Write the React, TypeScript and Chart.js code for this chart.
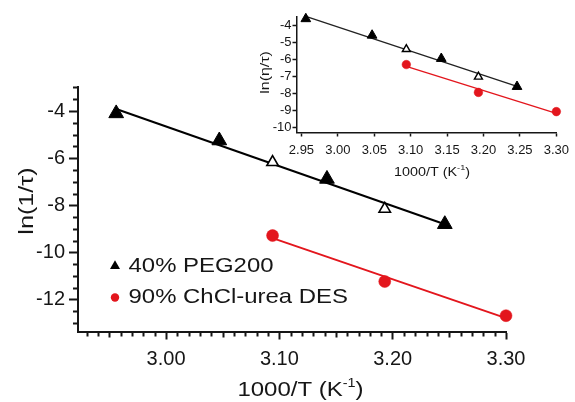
import React, { useEffect, useRef } from "react";
import { Chart, registerables } from "chart.js";

Chart.register(...registerables);

// ---------- data ----------
// 40% PEG200: 1000/T values, open (false) or filled (true) triangles
const pegX = [2.956, 3.047, 3.094, 3.142, 3.193, 3.246];
const pegFilled = [true, true, false, true, false, true];
const pegLnTau = [-4.1, -5.25, -6.17, -6.88, -8.15, -8.8];
const pegLnEtaTau = [-3.61, -4.58, -5.4, -5.95, -7.02, -7.6];
// 90% ChCl-urea DES
const desX = [3.094, 3.193, 3.3];
const desLnTau = [-9.28, -11.23, -12.68];
const desLnEtaTau = [-6.3, -7.94, -9.07];

const legendLabels = ["40% PEG200", "90% ChCl-urea DES"];
const mainXTicks = [3.0, 3.1, 3.2, 3.3];
const mainYTicks = [-4, -6, -8, -10, -12];
const insetXTicks = [2.95, 3.0, 3.05, 3.1, 3.15, 3.2, 3.25, 3.3];
const insetYTicks = [-4, -5, -6, -7, -8, -9, -10];

// ---------- styling ----------
const FONT = '"Liberation Sans", Arial, sans-serif';
const INK = "#161616";
const RED = "#e3161d";

function fitLine(xs: number[], ys: number[]) {
  const n = xs.length;
  const mx = xs.reduce((a, b) => a + b, 0) / n;
  const my = ys.reduce((a, b) => a + b, 0) / n;
  let sxy = 0;
  let sxx = 0;
  for (let i = 0; i < n; i++) {
    sxy += (xs[i] - mx) * (ys[i] - my);
    sxx += (xs[i] - mx) * (xs[i] - mx);
  }
  const b = sxy / sxx;
  const a = my - b * mx;
  const x0 = Math.min(...xs);
  const x1 = Math.max(...xs);
  return [
    { x: x0, y: a + b * x0 },
    { x: x1, y: a + b * x1 },
  ];
}

function pts(xs: number[], ys: number[]) {
  return xs.map((x, i) => ({ x, y: ys[i] }));
}

function stretchedText(
  ctx: CanvasRenderingContext2D,
  text: string,
  x: number,
  y: number,
  font: string,
  sx: number,
  align: CanvasTextAlign,
  rotate = 0
) {
  ctx.save();
  ctx.translate(x, y);
  if (rotate) ctx.rotate(rotate);
  ctx.scale(sx, 1);
  ctx.font = font;
  ctx.fillStyle = INK;
  ctx.textAlign = align;
  ctx.textBaseline = "middle";
  ctx.fillText(text, 0, 0);
  ctx.restore();
}

function kTitle(
  ctx: CanvasRenderingContext2D,
  cx: number,
  baseline: number,
  size: number,
  sx: number
) {
  const main = "1000/T (K";
  const sup = "-1";
  const close = ")";
  const bigFont = `${size}px ${FONT}`;
  const supFont = `${Math.round(size * 0.62)}px ${FONT}`;
  ctx.save();
  ctx.translate(cx, baseline);
  ctx.scale(sx, 1);
  ctx.fillStyle = INK;
  ctx.textBaseline = "alphabetic";
  ctx.textAlign = "left";
  ctx.font = bigFont;
  const w1 = ctx.measureText(main).width;
  const w3 = ctx.measureText(close).width;
  ctx.font = supFont;
  const w2 = ctx.measureText(sup).width;
  const total = w1 + w2 + w3;
  let x = -total / 2;
  ctx.font = bigFont;
  ctx.fillText(main, x, 0);
  x += w1;
  ctx.font = supFont;
  ctx.fillText(sup, x, -size * 0.42);
  x += w2;
  ctx.font = bigFont;
  ctx.fillText(close, x, 0);
  ctx.restore();
}

function isMajor(v: number, majors: number[]) {
  return majors.some((m) => Math.abs(m - v) < 1e-6);
}

function minorTickPlugin(o: {
  xStep: number;
  xMidStep: number;
  yStep: number;
  xLen: number;
  xMidLen: number;
  yLen: number;
  width: number;
  xMajors: number[];
  yMajors: number[];
}) {
  return {
    id: "minorTicks",
    afterDraw(chart: any) {
      const { ctx, chartArea } = chart;
      const xs = chart.scales.x;
      const ys = chart.scales.y;
      ctx.save();
      ctx.strokeStyle = INK;
      ctx.lineWidth = o.width;
      ctx.beginPath();
      if (o.xStep > 0) {
        const k0 = Math.ceil(xs.min / o.xStep - 1e-9);
        const k1 = Math.floor(xs.max / o.xStep + 1e-9);
        for (let k = k0; k <= k1; k++) {
          const v = k * o.xStep;
          if (isMajor(v, o.xMajors)) continue;
          const px = Math.round(xs.getPixelForValue(v)) + 0.5;
          const mid = Math.abs(v / o.xMidStep - Math.round(v / o.xMidStep)) < 1e-6;
          const len = mid ? o.xMidLen : o.xLen;
          ctx.moveTo(px, chartArea.bottom);
          ctx.lineTo(px, chartArea.bottom + len);
        }
      }
      if (o.yStep > 0) {
        const k0 = Math.ceil(ys.min / o.yStep - 1e-9);
        const k1 = Math.floor(ys.max / o.yStep + 1e-9);
        for (let k = k0; k <= k1; k++) {
          const v = k * o.yStep;
          if (isMajor(v, o.yMajors)) continue;
          const py = Math.round(ys.getPixelForValue(v)) + 0.5;
          ctx.moveTo(chartArea.left, py);
          ctx.lineTo(chartArea.left - o.yLen, py);
        }
      }
      ctx.stroke();
      ctx.restore();
    },
  };
}

const mainTextPlugin = {
  id: "mainText",
  afterDraw(chart: any) {
    const ctx: CanvasRenderingContext2D = chart.ctx;
    // y-axis title
    stretchedText(ctx, "ln(1/\u03c4)", 27, 201, `21px ${FONT}`, 1.2, "center", -Math.PI / 2);
    // x-axis title
    kTitle(ctx, 300.5, 395.5, 20, 1.2);
    // legend
    const rows = [266, 297.5];
    // triangle marker
    const tx = 115;
    const r = 5.8;
    ctx.save();
    ctx.fillStyle = "#000";
    ctx.beginPath();
    ctx.moveTo(tx, rows[0] - r);
    ctx.lineTo(tx + r * 0.866, rows[0] + r * 0.5);
    ctx.lineTo(tx - r * 0.866, rows[0] + r * 0.5);
    ctx.closePath();
    ctx.fill();
    ctx.fillStyle = RED;
    ctx.beginPath();
    ctx.arc(tx, rows[1], 4.2, 0, Math.PI * 2);
    ctx.fill();
    ctx.restore();
    legendLabels.forEach((lab, i) => {
      stretchedText(ctx, lab, 128.5, rows[i], `21px ${FONT}`, 1.14, "left");
    });
  },
};

const insetTextPlugin = {
  id: "insetText",
  afterDraw(chart: any) {
    const ctx: CanvasRenderingContext2D = chart.ctx;
    stretchedText(ctx, "ln(\u03b7/\u03c4)", 15, 72.5, `13px ${FONT}`, 1.22, "center", -Math.PI / 2);
    kTitle(ctx, 182, 175.5, 12.5, 1.15);
  },
};

function MainChart() {
  const ref = useRef<HTMLCanvasElement>(null);
  useEffect(() => {
    if (!ref.current) return;
    const pegPts = pts(pegX, pegLnTau);
    const desPts = pts(desX, desLnTau);
    const chart = new Chart(ref.current, {
      type: "scatter",
      data: {
        datasets: [
          {
            label: legendLabels[0],
            data: pegPts,
            pointStyle: "triangle",
            pointRadius: (c: any) => (pegFilled[c.dataIndex] ? 8.5 : 6.6),
            pointHoverRadius: (c: any) => (pegFilled[c.dataIndex] ? 8.5 : 6.6),
            pointBackgroundColor: (c: any) => (pegFilled[c.dataIndex] ? "#000" : "#fff"),
            pointBorderColor: "#000",
            pointBorderWidth: (c: any) => (pegFilled[c.dataIndex] ? 1 : 1.6),
            showLine: false,
            clip: false as any,
          },
          {
            label: legendLabels[1],
            data: desPts,
            pointStyle: "circle",
            pointRadius: 6,
            pointBackgroundColor: RED,
            pointBorderColor: RED,
            pointBorderWidth: 0.5,
            showLine: false,
            clip: false as any,
          },
          {
            label: "PEG fit",
            data: fitLine(pegX, pegLnTau),
            showLine: true,
            borderColor: "#000",
            borderWidth: 2,
            pointRadius: 0,
            clip: false as any,
          },
          {
            label: "DES fit",
            data: fitLine(desX, desLnTau),
            showLine: true,
            borderColor: RED,
            borderWidth: 2,
            pointRadius: 0,
            clip: false as any,
          },
        ],
      },
      options: {
        animation: false,
        responsive: false,
        devicePixelRatio: 1,
        events: [],
        layout: { padding: { left: 0, top: 87, right: 69, bottom: 0 } },
        plugins: { legend: { display: false }, tooltip: { enabled: false }, title: { display: false } },
        scales: {
          x: {
            type: "linear",
            min: 2.9223,
            max: 3.3,
            afterBuildTicks: (s: any) => {
              s.ticks = mainXTicks.map((v) => ({ value: v }));
            },
            afterFit: (s: any) => {
              s.height = 70.5;
            },
            ticks: {
              callback: (v: any) => Number(v).toFixed(2),
              font: { family: FONT, size: 20 },
              color: INK,
              padding: 8,
              maxRotation: 0,
              autoSkip: false,
            },
            grid: { drawOnChartArea: false, drawTicks: true, tickLength: 8, tickWidth: 2, tickColor: INK },
            border: { display: true, color: INK, width: 2 },
          },
          y: {
            type: "linear",
            min: -13.35,
            max: -2.98,
            afterBuildTicks: (s: any) => {
              s.ticks = mainYTicks.map((v) => ({ value: v }));
            },
            afterFit: (s: any) => {
              s.width = 78;
            },
            ticks: {
              callback: (v: any) => String(v),
              font: { family: FONT, size: 20 },
              color: INK,
              padding: 4,
              autoSkip: false,
            },
            grid: { drawOnChartArea: false, drawTicks: true, tickLength: 9, tickWidth: 2, tickColor: INK },
            border: { display: true, color: INK, width: 2 },
          },
        },
      } as any,
      plugins: [
        minorTickPlugin({
          xStep: 0.01,
          xMidStep: 0.05,
          yStep: 0.5,
          xLen: 5,
          xMidLen: 6,
          yLen: 5,
          width: 2,
          xMajors: mainXTicks,
          yMajors: mainYTicks,
        }),
        mainTextPlugin,
      ],
    });
    return () => chart.destroy();
  }, []);
  return (
    <canvas
      ref={ref}
      width={575}
      height={402}
      style={{ position: "absolute", left: 0, top: 0, width: 575, height: 402 }}
    />
  );
}

function InsetChart() {
  const ref = useRef<HTMLCanvasElement>(null);
  useEffect(() => {
    if (!ref.current) return;
    const pegPts = pts(pegX, pegLnEtaTau);
    const desPts = pts(desX, desLnEtaTau);
    const chart = new Chart(ref.current, {
      type: "scatter",
      data: {
        datasets: [
          {
            label: legendLabels[0],
            data: pegPts,
            pointStyle: "triangle",
            pointRadius: (c: any) => (pegFilled[c.dataIndex] ? 5.6 : 4.6),
            pointHoverRadius: (c: any) => (pegFilled[c.dataIndex] ? 5.6 : 4.6),
            pointBackgroundColor: (c: any) => (pegFilled[c.dataIndex] ? "#000" : "#fff"),
            pointBorderColor: "#000",
            pointBorderWidth: (c: any) => (pegFilled[c.dataIndex] ? 1 : 1.4),
            showLine: false,
            clip: false as any,
          },
          {
            label: legendLabels[1],
            data: desPts,
            pointStyle: "circle",
            pointRadius: 4.3,
            pointBackgroundColor: RED,
            pointBorderColor: RED,
            pointBorderWidth: 0.5,
            showLine: false,
            clip: false as any,
          },
          {
            label: "PEG fit",
            data: fitLine(pegX, pegLnEtaTau),
            showLine: true,
            borderColor: "#222",
            borderWidth: 1.3,
            pointRadius: 0,
            clip: false as any,
          },
          {
            label: "DES fit",
            data: fitLine(desX, desLnEtaTau),
            showLine: true,
            borderColor: RED,
            borderWidth: 1.3,
            pointRadius: 0,
            clip: false as any,
          },
        ],
      },
      options: {
        animation: false,
        responsive: false,
        devicePixelRatio: 1,
        events: [],
        layout: { padding: { left: 0, top: 17, right: 16.7, bottom: 0 } },
        plugins: { legend: { display: false }, tooltip: { enabled: false }, title: { display: false } },
        scales: {
          x: {
            type: "linear",
            min: 2.9432,
            max: 3.3,
            afterBuildTicks: (s: any) => {
              s.ticks = insetXTicks.map((v) => ({ value: v }));
            },
            afterFit: (s: any) => {
              s.height = 57.5;
            },
            ticks: {
              callback: (v: any) => Number(v).toFixed(2),
              font: { family: FONT, size: 13 },
              color: INK,
              padding: 6,
              maxRotation: 0,
              autoSkip: false,
            },
            grid: { drawOnChartArea: false, drawTicks: true, tickLength: 4, tickWidth: 1.5, tickColor: INK },
            border: { display: true, color: INK, width: 1.5 },
          },
          y: {
            type: "linear",
            min: -10.3,
            max: -3.5,
            afterBuildTicks: (s: any) => {
              s.ticks = insetYTicks.map((v) => ({ value: v }));
            },
            afterFit: (s: any) => {
              s.width = 46.5;
            },
            ticks: {
              callback: (v: any) => String(v),
              font: { family: FONT, size: 13 },
              color: INK,
              padding: 1,
              autoSkip: false,
            },
            grid: { drawOnChartArea: false, drawTicks: true, tickLength: 4, tickWidth: 1.5, tickColor: INK },
            border: { display: true, color: INK, width: 1.5 },
          },
        },
      } as any,
      plugins: [insetTextPlugin],
    });
    return () => chart.destroy();
  }, []);
  return (
    <canvas
      ref={ref}
      width={325}
      height={190}
      style={{ position: "absolute", left: 250, top: 0, width: 325, height: 190 }}
    />
  );
}

export default function App() {
  useEffect(() => {
    document.body.style.margin = "0";
    document.body.style.background = "#fff";
  }, []);
  return (
    <div style={{ position: "absolute", left: 0, top: 0, width: 575, height: 402, background: "#fff", overflow: "hidden" }}>
      <MainChart />
      <InsetChart />
    </div>
  );
}
